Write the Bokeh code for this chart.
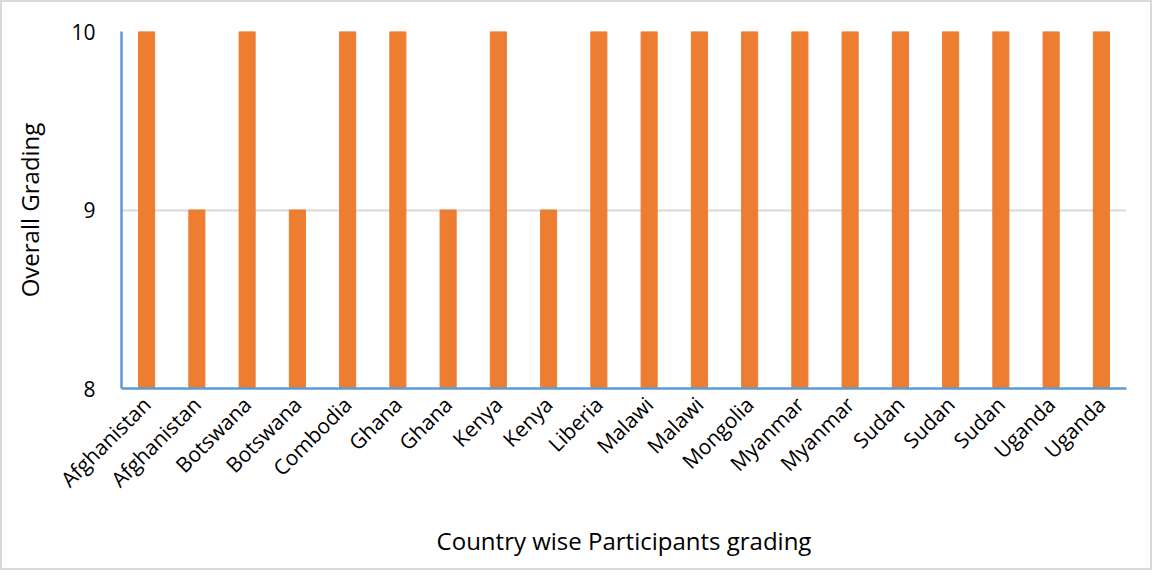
import math
from bokeh.plotting import figure
from bokeh.models import FixedTicker, Range1d
from bokeh.embed import file_html
from bokeh.resources import INLINE

countries = ["Afghanistan", "Afghanistan", "Botswana", "Botswana", "Combodia",
             "Ghana", "Ghana", "Kenya", "Kenya", "Liberia", "Malawi", "Malawi",
             "Mongolia", "Myanmar", "Myanmar", "Sudan", "Sudan", "Sudan",
             "Uganda", "Uganda"]
grading = [10, 9, 10, 9, 10, 10, 9, 10, 9, 10, 10, 10, 10, 10, 10, 10, 10, 10, 10, 10]
y_ticks = [8, 9, 10]

FONT = "Open Sans"
xs = [i + 0.5 for i in range(len(countries))]

p = figure(width=1152, height=570, output_backend="svg", toolbar_location=None,
           x_range=Range1d(0, len(countries)), y_range=Range1d(8, 10),
           min_border_left=119, min_border_top=29, min_border_right=28,
           min_border_bottom=184)

p.vbar(x=xs, top=grading, bottom=8, width=0.32, color="#ED7D31")

p.xaxis.ticker = FixedTicker(ticks=xs)
p.xaxis.major_label_overrides = {x: c for x, c in zip(xs, countries)}
p.xaxis.major_label_orientation = math.pi / 4
p.yaxis.ticker = FixedTicker(ticks=y_ticks)

for ax in (p.xaxis[0], p.yaxis[0]):
    ax.axis_line_color = "#5B9BD5"
    ax.axis_line_width = 2.5
    ax.major_tick_line_color = None
    ax.minor_tick_line_color = None
    ax.major_label_text_font = FONT
    ax.major_label_text_font_size = "21px"
    ax.major_label_text_color = "#000000"
    ax.axis_label_text_font = FONT
    ax.axis_label_text_font_size = "24px"
    ax.axis_label_text_font_style = "normal"
    ax.axis_label_text_color = "#000000"

p.yaxis.major_label_standoff = 20
p.xaxis.major_label_standoff = 6
p.xaxis.axis_label = "Country wise Participants grading"
p.yaxis.axis_label = "Overall Grading"
p.xaxis.axis_label_standoff = 18
p.yaxis.axis_label_standoff = 22

p.xgrid.grid_line_color = None
p.ygrid.ticker = FixedTicker(ticks=[9, 10])
p.ygrid.grid_line_color = "#D9D9D9"
p.ygrid.grid_line_width = 2
p.outline_line_color = None
p.background_fill_color = "white"
p.border_fill_color = "white"
p.styles = {"border": "2px solid #D9D9D9", "box-sizing": "border-box"}

open("out.html", "w").write(file_html(p, INLINE))
